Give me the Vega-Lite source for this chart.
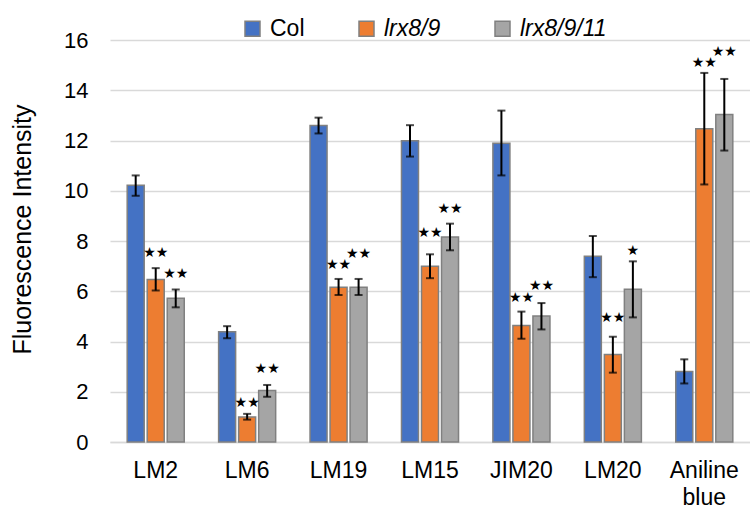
{
  "$schema": "https://vega.github.io/schema/vega-lite/v6.json",
  "width": 640,
  "height": 402,
  "autosize": {"type": "none"},
  "padding": {"left": 110, "top": 40, "right": 0, "bottom": 66},
  "background": "white",
  "config": {
    "view": {"stroke": null},
    "font": "Liberation Sans",
    "axis": {"labelFont": "Liberation Sans", "titleFont": "Liberation Sans", "labelColor": "#000000", "titleColor": "#000000"}
  },
  "data": {
    "values": [
      {"cat": "LM2", "geno": "Col", "value": 10.22, "lo": 9.8, "hi": 10.61, "stars": "", "star_y": 0},
      {"cat": "LM2", "geno": "lrx8/9", "value": 6.47, "lo": 6.03, "hi": 6.92, "stars": "★★", "star_y": 7.52},
      {"cat": "LM2", "geno": "lrx8/9/11", "value": 5.72, "lo": 5.36, "hi": 6.07, "stars": "★★", "star_y": 6.68},
      {"cat": "LM6", "geno": "Col", "value": 4.39, "lo": 4.13, "hi": 4.61, "stars": "", "star_y": 0},
      {"cat": "LM6", "geno": "lrx8/9", "value": 1.0, "lo": 0.89, "hi": 1.12, "stars": "★★", "star_y": 1.57},
      {"cat": "LM6", "geno": "lrx8/9/11", "value": 2.05, "lo": 1.8, "hi": 2.27, "stars": "★★", "star_y": 2.91},
      {"cat": "LM19", "geno": "Col", "value": 12.6, "lo": 12.28, "hi": 12.91, "stars": "", "star_y": 0},
      {"cat": "LM19", "geno": "lrx8/9", "value": 6.16, "lo": 5.85, "hi": 6.49, "stars": "★★", "star_y": 7.04},
      {"cat": "LM19", "geno": "lrx8/9/11", "value": 6.16, "lo": 5.85, "hi": 6.49, "stars": "★★", "star_y": 7.49},
      {"cat": "LM15", "geno": "Col", "value": 11.99, "lo": 11.36, "hi": 12.61, "stars": "", "star_y": 0},
      {"cat": "LM15", "geno": "lrx8/9", "value": 7.0, "lo": 6.52, "hi": 7.47, "stars": "★★", "star_y": 8.32},
      {"cat": "LM15", "geno": "lrx8/9/11", "value": 8.16, "lo": 7.63, "hi": 8.69, "stars": "★★", "star_y": 9.27},
      {"cat": "JIM20", "geno": "Col", "value": 11.89, "lo": 10.61, "hi": 13.19, "stars": "", "star_y": 0},
      {"cat": "JIM20", "geno": "lrx8/9", "value": 4.64, "lo": 4.11, "hi": 5.19, "stars": "★★", "star_y": 5.72},
      {"cat": "JIM20", "geno": "lrx8/9/11", "value": 5.01, "lo": 4.48, "hi": 5.53, "stars": "★★", "star_y": 6.2},
      {"cat": "LM20", "geno": "Col", "value": 7.39, "lo": 6.56, "hi": 8.2, "stars": "", "star_y": 0},
      {"cat": "LM20", "geno": "lrx8/9", "value": 3.48, "lo": 2.76, "hi": 4.19, "stars": "★★", "star_y": 4.93},
      {"cat": "LM20", "geno": "lrx8/9/11", "value": 6.08, "lo": 4.96, "hi": 7.19, "stars": "★", "star_y": 7.6},
      {"cat": "Aniline blue", "geno": "Col", "value": 2.81, "lo": 2.33, "hi": 3.29, "stars": "", "star_y": 0},
      {"cat": "Aniline blue", "geno": "lrx8/9", "value": 12.47, "lo": 10.25, "hi": 14.69, "stars": "★★", "star_y": 15.08},
      {"cat": "Aniline blue", "geno": "lrx8/9/11", "value": 13.03, "lo": 11.6, "hi": 14.45, "stars": "★★", "star_y": 15.52}
    ]
  },
  "encoding": {
    "x": {
      "field": "cat",
      "type": "nominal",
      "sort": ["LM2", "LM6", "LM19", "LM15", "JIM20", "LM20", "Aniline blue"],
      "scale": {"paddingInner": 0.376, "paddingOuter": 0.188},
      "axis": {
        "title": null,
        "labelAngle": 0,
        "labelFontSize": 23,
        "labelPadding": 17,
        "labelLineHeight": 27,
        "labelExpr": "datum.label == 'Aniline blue' ? ['Aniline', 'blue'] : datum.label",
        "ticks": false,
        "domain": true,
        "domainColor": "#d9d9d9",
        "domainWidth": 1.5,
        "grid": false
      }
    },
    "xOffset": {
      "field": "geno",
      "type": "nominal",
      "sort": ["Col", "lrx8/9", "lrx8/9/11"],
      "scale": {"paddingInner": 0.15, "paddingOuter": 0}
    }
  },
  "layer": [
    {
      "mark": {"type": "bar", "stroke": "#808080", "strokeWidth": 1.5},
      "encoding": {
        "y": {
          "field": "value",
          "type": "quantitative",
          "scale": {"domain": [0, 16], "nice": false},
          "axis": {
            "title": "Fluorescence Intensity",
            "titleFontSize": 25,
            "titleFontWeight": "normal",
            "titleAngle": -90,
            "titleBaseline": "alphabetic",
            "titleAlign": "center",
            "titleX": -80,
            "titleY": 189,
            "values": [0, 2, 4, 6, 8, 10, 12, 14, 16],
            "labelFontSize": 22,
            "labelPadding": 22,
            "ticks": false,
            "domain": false,
            "grid": true,
            "gridColor": "#d9d9d9",
            "gridWidth": 1.5
          }
        },
        "color": {
          "field": "geno",
          "type": "nominal",
          "sort": ["Col", "lrx8/9", "lrx8/9/11"],
          "scale": {"domain": ["Col", "lrx8/9", "lrx8/9/11"], "range": ["#4472C4", "#ED7D31", "#A5A5A5"]},
          "legend": {
            "title": null,
            "orient": "none",
            "direction": "horizontal",
            "legendX": 131,
            "legendY": -23,
            "symbolType": "square",
            "symbolSize": 225,
            "symbolStrokeColor": "#808080",
            "symbolStrokeWidth": 1.5,
            "labelFontSize": 23,
            "labelFont": "Liberation Sans",
            "labelColor": "#000000",
            "labelOffset": 6,
            "columnPadding": 50,
            "encode": {
              "labels": {"update": {"fontStyle": {"signal": "datum.label == 'Col' ? 'normal' : 'italic'"}}}
            }
          }
        }
      }
    },
    {
      "mark": {"type": "rule", "color": "#000000", "strokeWidth": 2},
      "encoding": {
        "y": {"field": "lo", "type": "quantitative"},
        "y2": {"field": "hi"}
      }
    },
    {
      "mark": {"type": "tick", "color": "#000000", "thickness": 2, "size": 8, "orient": "horizontal"},
      "encoding": {"y": {"field": "lo", "type": "quantitative"}}
    },
    {
      "mark": {"type": "tick", "color": "#000000", "thickness": 2, "size": 8, "orient": "horizontal"},
      "encoding": {"y": {"field": "hi", "type": "quantitative"}}
    },
    {
      "transform": [{"filter": "datum.stars != ''"}],
      "mark": {"type": "text", "font": "DejaVu Sans", "fontSize": 14, "color": "#000000", "baseline": "middle", "align": "center"},
      "encoding": {
        "y": {"field": "star_y", "type": "quantitative"},
        "text": {"field": "stars"}
      }
    }
  ]
}
